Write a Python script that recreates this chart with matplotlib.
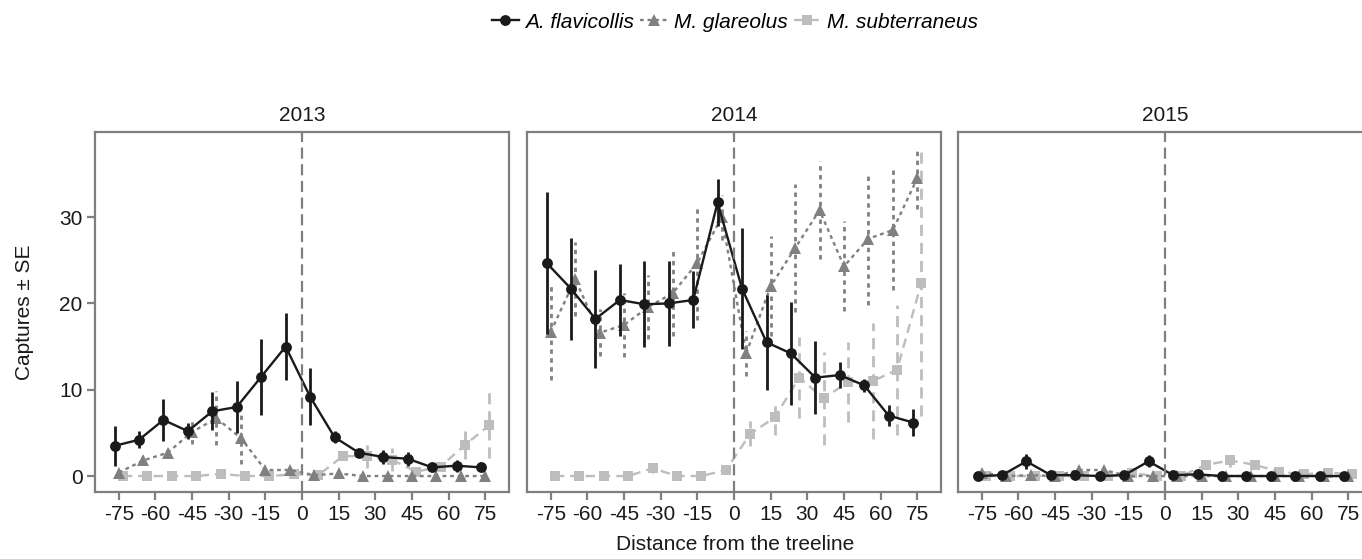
import numpy as np
import matplotlib
matplotlib.use("Agg")
from matplotlib import pyplot as plt
from matplotlib.lines import Line2D

plt.rcParams['font.family'] = ['Liberation Sans', 'DejaVu Sans']

# distance from the treeline (m)
dist = [-75, -65, -55, -45, -35, -25, -15, -5, 5, 15, 25, 35, 45, 55, 65, 75]
years = ["2013", "2014", "2015"]
xtick_vals = [-75, -60, -45, -30, -15, 0, 15, 30, 45, 60, 75]
species = ["A. flavicollis", "M. glareolus", "M. subterraneus"]

# A. flavicollis
af_mean = {
    "2013": [3.5, 4.2, 6.5, 5.2, 7.5, 8.0, 11.5, 15.0, 9.2, 4.5, 2.7, 2.2, 2.0, 1.0, 1.2, 1.0],
    "2014": [24.7, 21.7, 18.2, 20.4, 19.9, 20.0, 20.4, 31.7, 21.7, 15.5, 14.2, 11.4, 11.7, 10.5, 7.0, 6.2],
    "2015": [0, 0.1, 1.7, 0.1, 0.1, 0, 0.1, 1.7, 0.1, 0.2, 0, 0, 0, 0, 0, 0],
}
af_se = {
    "2013": [2.3, 1.0, 2.4, 0.9, 2.2, 3.0, 4.4, 3.9, 3.3, 0.7, 0.3, 0.8, 0.8, 0.2, 0.7, 0.2],
    "2014": [8.2, 5.9, 5.7, 4.2, 5.0, 4.9, 3.3, 2.7, 7.0, 5.5, 6.0, 4.2, 1.5, 0.8, 1.2, 1.6],
    "2015": [0.1, 0.1, 0.9, 0.1, 0.1, 0.1, 0.1, 0.7, 0.1, 0.1, 0.1, 0.1, 0.1, 0.1, 0.1, 0.1],
}

# M. glareolus
mg_mean = {
    "2013": [0.4, 1.8, 2.7, 5.1, 6.7, 4.4, 0.7, 0.7, 0.1, 0.3, 0, 0, 0, 0, 0, 0],
    "2014": [16.7, 22.8, 16.6, 17.5, 19.6, 21.2, 24.7, 30.0, 14.2, 22.0, 26.4, 30.8, 24.3, 27.5, 28.5, 34.5],
    "2015": [0.4, 0, 0.1, 0, 0.7, 0.7, 0, 0, 0, 0, 0, 0, 0, 0, 0, 0],
}
mg_se = {
    "2013": [0.3, 0.5, 0.5, 1.4, 3.1, 3.0, 0.4, 0.3, 0.1, 0.3, 0, 0, 0, 0, 0, 0],
    "2014": [5.6, 4.3, 2.7, 3.7, 3.7, 5.0, 6.6, 2.6, 2.6, 5.8, 7.4, 5.7, 5.2, 7.7, 7.0, 3.6],
    "2015": [0.2, 0, 0.1, 0, 0.4, 0.4, 0, 0, 0, 0, 0, 0, 0, 0, 0, 0],
}

# M. subterraneus
ms_mean = {
    "2013": [0, 0, 0, 0, 0.25, 0, 0, 0.2, 0.1, 2.3, 2.3, 1.9, 0.5, 1.1, 3.6, 5.9],
    "2014": [0, 0, 0, 0, 0.9, 0, 0, 0.7, 4.9, 6.8, 11.4, 9.0, 10.9, 11.0, 12.3, 22.4],
    "2015": [0, 0, 0, 0, 0, 0, 0.3, 0, 0, 1.3, 1.8, 1.3, 0.5, 0.2, 0.4, 0.2],
}
ms_se = {
    "2013": [0, 0, 0, 0, 0.2, 0, 0, 0.2, 0.1, 0.3, 1.35, 1.3, 0.3, 0.5, 1.6, 3.8],
    "2014": [0, 0, 0, 0, 0.5, 0, 0, 0.3, 1.45, 2.1, 4.7, 5.4, 4.65, 6.7, 7.5, 15.5],
    "2015": [0, 0, 0, 0, 0, 0, 0.2, 0, 0, 0.4, 0.7, 0.5, 0.2, 0.1, 0.2, 0.1],
}

W, H = 1362, 559
fig = plt.figure(figsize=(W / 100, H / 100), dpi=100)

frame = "#7f7f7f"
txt = "#1a1a1a"
fs = 15
styles = [
    # name, means, ses, color, marker, size, dash, dodge, z
    (species[0], af_mean, af_se, "#1a1a1a", "o", 7.8, "-", -1.7, 5),
    (species[1], mg_mean, mg_se, "#808080", "^", 8.8, (0, (1.6, 1.6)), 0.0, 4),
    (species[2], ms_mean, ms_se, "#bdbdbd", "s", 7.2, (0, (4, 2.5)), 1.7, 3),
]

panel_left = [95, 527, 958]
panel_w, top_px, bot_px = 414, 132, 492

for i, yr in enumerate(years):
    ax = fig.add_axes([panel_left[i] / W, (H - bot_px) / H, panel_w / W, (bot_px - top_px) / H])
    for name, means, ses, col, mk, ms, ls, dx, z in styles:
        x = np.array(dist) + dx
        m = np.array(means[yr])
        s = np.array(ses[yr])
        ax.vlines(x, m - s, m + s, colors=col, linestyles=ls, linewidth=2.0, zorder=z)
        ax.plot(x, m, color=col, linestyle=ls, linewidth=1.7, marker=mk,
                markersize=ms, markeredgewidth=0, zorder=z)
    ax.axvline(0, color=frame, linestyle=(0, (5, 2.5)), linewidth=1.6, zorder=6)
    ax.set_xlim(-84.7, 84.7)
    ax.set_ylim(-1.85, 39.86)
    ax.set_xticks(xtick_vals)
    ax.set_xticklabels([str(v) for v in xtick_vals], fontsize=fs, color=txt)
    ax.set_yticks([0, 10, 20, 30])
    if i == 0:
        ax.set_yticklabels(["0", "10", "20", "30"], fontsize=fs, color=txt)
        ax.tick_params(axis="y", length=6, width=1.6, color=frame, pad=3)
    else:
        ax.tick_params(axis="y", left=False, labelleft=False)
    ax.tick_params(axis="x", length=6, width=1.6, color=frame, pad=3)
    for sp in ax.spines.values():
        sp.set_color(frame)
        sp.set_linewidth(1.6)
    ax.set_title(yr, fontsize=fs, color=txt, pad=8)

fig.text(25 / W, 1 - 312 / H, "Captures \u00b1 SE", rotation=90, ha="center", va="center",
         fontsize=fs, color=txt)
fig.text(735 / W, 1 - 545 / H, "Distance from the treeline", ha="center", va="center",
         fontsize=fs, color=txt)

handles = [Line2D([], [], color=c, linestyle=ls, linewidth=1.7, marker=mk, markersize=ms,
                  markeredgewidth=0) for _, _, _, c, mk, ms, ls, _, _ in styles]
fig.legend(handles, species, loc="center", bbox_to_anchor=(735 / W, 1 - 22 / H), ncol=3,
           frameon=False, prop={"style": "italic", "size": fs}, handlelength=1.3,
           handletextpad=0.3, columnspacing=0.3)

fig.savefig("out.png", dpi=100)
